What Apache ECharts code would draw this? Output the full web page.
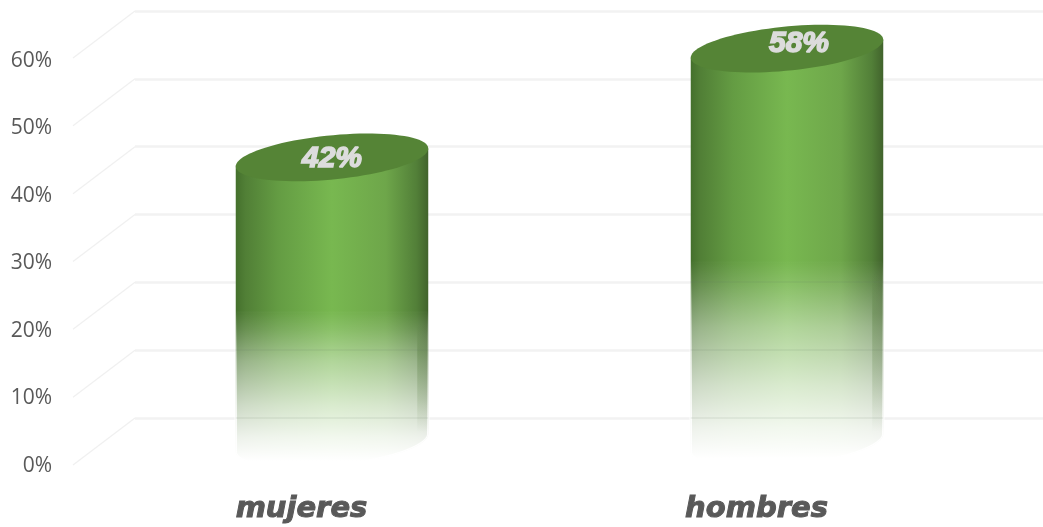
<!DOCTYPE html>
<html><head><meta charset="utf-8">
<style>html,body{margin:0;padding:0;background:#fff}#c{width:1043px;height:527px}</style>
<script src="https://cdn.jsdelivr.net/npm/echarts@6/dist/echarts.min.js"></script>
</head><body><div id="c"></div>
<script>
const categories = ['mujeres', 'hombres'];
const values = [42, 58];
const tickValues = [0, 10, 20, 30, 40, 50, 60];

const G = echarts.graphic;
const DEPTH_X = -62, DEPTH_Y = 47, BACK_SHIFT = -25;
const TILT = 5.6 * Math.PI / 180;
const labelNudge = [[0, 1], [12, -5]];

function arc(cx, cy, a, b, t0, t1, n) {
  const pts = [];
  for (let k = 0; k <= n; k++) {
    const t = t0 + (t1 - t0) * k / n;
    pts.push([
      cx + a * Math.cos(t) * Math.cos(TILT) + b * Math.sin(t) * Math.sin(TILT),
      cy - a * Math.cos(t) * Math.sin(TILT) + b * Math.sin(t) * Math.cos(TILT)
    ]);
  }
  return pts;
}

function renderCylinder(params, api) {
  const i = api.value(0), v = api.value(1);
  const top = api.coord([i, v]), base = api.coord([i, 0]);
  const a = api.size([1, 0])[0] * 0.2125, b = a * 0.235;
  const t0 = Math.atan2(b * Math.sin(TILT), a * Math.cos(TILT));
  const lower = arc(base[0], base[1], a, b, t0, Math.PI + t0, 60);
  const R = lower[0], L = lower[lower.length - 1];
  const topL = [L[0], top[1] + (L[1] - base[1])], topR = [R[0], top[1] + (R[1] - base[1])];
  const fadeY = base[1] - (base[1] - top[1]) * 0.46;
  const sideFill = new G.LinearGradient(0, 0, 1, 0, [
    { offset: 0, color: '#44702c' }, { offset: 0.05, color: '#517f36' },
    { offset: 0.22, color: '#649c43' }, { offset: 0.5, color: '#78b850' },
    { offset: 0.78, color: '#6ea64a' }, { offset: 0.94, color: '#527f38' },
    { offset: 1, color: '#41632c' }
  ]);
  const fadeFill = new G.LinearGradient(0, 0, 0, 1, [
    { offset: 0, color: 'rgba(255,255,255,0)' }, { offset: 0.12, color: 'rgba(255,255,255,0.14)' },
    { offset: 0.32, color: 'rgba(255,255,255,0.42)' }, { offset: 0.6, color: 'rgba(255,255,255,0.72)' },
    { offset: 0.8, color: 'rgba(255,255,255,0.9)' }, { offset: 0.95, color: 'rgba(255,255,255,1)' },
    { offset: 1, color: 'rgba(255,255,255,1)' }
  ]);
  const stripFill = new G.LinearGradient(0, 0, 0, 1, [
    { offset: 0, color: 'rgba(80,120,55,0)' }, { offset: 0.25, color: 'rgba(80,120,55,0.32)' },
    { offset: 0.7, color: 'rgba(80,120,55,0.16)' }, { offset: 1, color: 'rgba(80,120,55,0)' }
  ]);
  const children = [
    { type: 'polygon', shape: { points: [topR].concat(lower, [topL]) }, style: { fill: sideFill } },
    { type: 'polygon', shape: { points: [[R[0], fadeY]].concat(lower, [[L[0], fadeY]]) },
      style: { fill: fadeFill, stroke: fadeFill, lineWidth: 2.5 } },
    { type: 'rect', shape: { x: R[0] - 11, y: fadeY + 12, width: 11, height: R[1] - fadeY - 14 }, style: { fill: stripFill } }
  ];
  tickValues.forEach(function (t) {
    const y = api.coord([i, t])[1] + BACK_SHIFT;
    if (y > fadeY) {
      children.push({ type: 'line', shape: { x1: L[0], y1: y, x2: R[0], y2: y },
        style: { stroke: 'rgba(110,120,100,0.12)', lineWidth: 1.5 } });
    }
  });
  children.push({ type: 'polygon', shape: { points: arc(top[0], top[1], a, b * 0.97, 0, Math.PI * 2, 90) },
    style: { fill: '#558436' } });
  children.push({ type: 'text', x: top[0] + labelNudge[i][0], y: top[1] + labelNudge[i][1],
    style: { text: v + '%', fill: '#dcdcdc', font: 'italic bold 30px "Liberation Sans"',
      align: 'center', verticalAlign: 'middle', stroke: '#dcdcdc', lineWidth: 1.6 } });
  return { type: 'group', children: children };
}

function renderDiagonal(params, api) {
  const p = api.coord([0, api.value(0)]);
  const x = api.coord([0, 0])[0] - api.size([1, 0])[0] / 2;
  return { type: 'line', shape: { x1: x, y1: p[1], x2: x + DEPTH_X, y2: p[1] + DEPTH_Y },
    style: { stroke: '#f0f0f0', lineWidth: 1.2 } };
}

const chart = echarts.init(document.getElementById('c'), null, { renderer: 'canvas' });
chart.setOption({
  animation: false,
  backgroundColor: '#ffffff',
  grid: [
    { left: 74, width: 910, top: 61, height: 405 },
    { left: 135, width: 910, top: 11, height: 407 },
    { left: 104.5, width: 910, top: 35, height: 408 }
  ],
  xAxis: [
    { gridIndex: 0, type: 'category', data: categories, axisLine: { show: false }, axisTick: { show: false },
      axisLabel: { margin: 29, color: '#595959', fontFamily: 'DejaVu Sans', fontStyle: 'italic', fontWeight: 'bold',
        fontSize: 29, textBorderColor: '#595959', textBorderWidth: 1 } },
    { gridIndex: 1, type: 'category', data: categories, show: false },
    { gridIndex: 2, type: 'category', data: categories, show: false }
  ],
  yAxis: [
    { gridIndex: 0, type: 'value', min: 0, max: 60, interval: 10, axisLine: { show: false }, axisTick: { show: false },
      splitLine: { show: false },
      axisLabel: { formatter: '{value}%', margin: 22, color: '#595959', fontFamily: 'Open Sans', fontSize: 21 } },
    { gridIndex: 1, type: 'value', min: 0, max: 60, interval: 10, axisLine: { show: false }, axisTick: { show: false },
      axisLabel: { show: false }, splitLine: { show: true, lineStyle: { color: '#f2f2f2', width: 2.5 } } },
    { gridIndex: 2, type: 'value', min: 0, max: 60, interval: 10, show: false, splitLine: { show: false } }
  ],
  series: [
    { type: 'custom', name: 'depth', xAxisIndex: 1, yAxisIndex: 1, clip: false, silent: true,
      encode: { y: 0 }, data: tickValues.map(function (t) { return [t]; }), renderItem: renderDiagonal, z: 1 },
    { type: 'custom', name: 'share', xAxisIndex: 2, yAxisIndex: 2, clip: false,
      encode: { x: 0, y: 1 }, data: values.map(function (v, i) { return [i, v]; }), renderItem: renderCylinder, z: 5 }
  ]
});
</script></body></html>
